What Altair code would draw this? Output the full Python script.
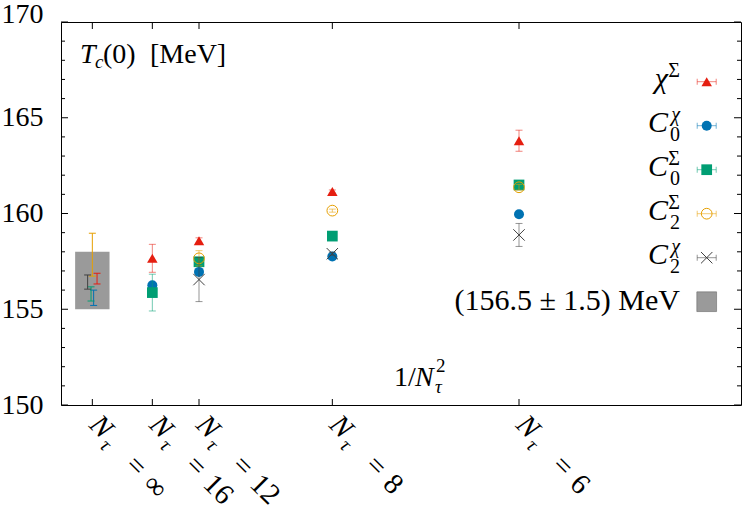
import math
import altair as alt
import pandas as pd

# ---------------- data ----------------
nt_labels = ["∞", "16", "12", "8", "6"]
nt_values = [math.inf, 16, 12, 8, 6]

series_keys = ["chiS", "C0chi", "C0S", "C2S", "C2chi"]
chiS_val = [156.60, 157.66, 158.58, 161.15, 163.80]
chiS_err = [0.28, 0.73, 0.15, 0.08, 0.55]
C0chi_val = [155.60, 156.25, 156.95, 157.75, 159.96]
C0chi_err = [0.40, 0.10, 0.10, 0.08, 0.10]
C0S_val = [155.80, 155.87, 157.48, 158.82, 161.49]
C0S_err = [0.37, 0.96, 0.15, 0.08, 0.10]
C2S_val = [157.85, None, 157.66, 160.15, 161.37]
C2S_err = [1.12, None, 0.40, 0.08, 0.15]
C2chi_val = [156.42, None, 156.55, 157.90, 158.88]
C2chi_err = [0.37, None, 1.15, 0.08, 0.60]

band_value = 156.5
band_error = 1.5

legend_main = ["χ", "C", "C", "C", "C", "(156.5 ± 1.5) MeV"]
legend_sup = ["Σ", "χ", "Σ", "Σ", "χ", ""]
legend_sup_italic = [False, True, False, False, True, False]
legend_sub = ["", "0", "0", "2", "2", ""]

y_major = [150, 155, 160, 165, 170]

# ---------------- styles / layout ----------------
W, H = 680, 383
XMIN, XMAX = -0.00204, 0.04223
YMIN, YMAX = 150, 170
FONT = "Liberation Serif"
PX = W / (XMAX - XMIN)
PY = H / (YMAX - YMIN)

colors = {"chiS": "#e51e10", "C0chi": "#0072b2", "C0S": "#009e73",
          "C2S": "#e69f00", "C2chi": "#404040"}
limit_offset_px = {"chiS": 4.7, "C0chi": 1.3, "C0S": -1.3, "C2S": 0.0, "C2chi": -4.7}
marker_style = {
    "chiS": dict(shape="triangle-up", filled=True, size=110),
    "C0chi": dict(shape="circle", filled=True, size=100),
    "C0S": dict(shape="square", filled=True, size=115),
    "C2S": dict(shape="circle", filled=False, size=115, strokeWidth=1),
    "C2chi": dict(shape="M-1,-1L1,1M-1,1L1,-1", filled=False, size=130, strokeWidth=1),
}
BAND_COLOR = "#9a9a9a"

xscale = alt.Scale(domain=[XMIN, XMAX], nice=False, zero=False)
yscale = alt.Scale(domain=[YMIN, YMAX], nice=False, zero=False)


def X(f):
    return alt.X(f, type="quantitative", scale=xscale, axis=None)


def Y(f):
    return alt.Y(f, type="quantitative", scale=yscale, axis=None)


# ---------------- tables ----------------
vals = {"chiS": (chiS_val, chiS_err), "C0chi": (C0chi_val, C0chi_err),
        "C0S": (C0S_val, C0S_err), "C2S": (C2S_val, C2S_err),
        "C2chi": (C2chi_val, C2chi_err)}
rows = []
for key in series_keys:
    v, e = vals[key]
    for n, yv, ye in zip(nt_values, v, e):
        if yv is None:
            continue
        lim = math.isinf(n)
        x = 0.0 if lim else 1.0 / n ** 2
        if lim:
            x += limit_offset_px[key] / PX
        rows.append(dict(series=key, x=x, y=yv, lo=yv - ye, hi=yv + ye,
                         marker=not lim, op=1.0 if lim else 0.55))
pts = pd.DataFrame(rows)

ticks = pd.DataFrame({"x": [0.0 if math.isinf(n) else 1.0 / n ** 2 for n in nt_values],
                      "lab": nt_labels})

band_half = 17.2 / PX
band = pd.DataFrame({"x0": [-band_half], "x1": [band_half],
                     "lo": [band_value - band_error], "hi": [band_value + band_error]})

# legend layout (in data units)
leg_sym_x = XMIN + (706.7 - 61) / PX
leg_txt_x = XMIN + (680 - 61) / PX
leg_hw = 9.5 / PX
leg_y0 = YMAX - (81.7 - 22) / PY
leg_step = 44.0 / PY
legend = pd.DataFrame({
    "i": list(range(6)),
    "key": series_keys + ["band"],
    "ly": [leg_y0 - leg_step * i for i in range(6)],
    "main": legend_main, "sup": legend_sup, "supi": legend_sup_italic, "sub": legend_sub,
})
legend["tx"] = leg_txt_x
legend["sx"] = leg_sym_x
legend["sx0"] = leg_sym_x - leg_hw
legend["sx1"] = leg_sym_x + leg_hw

one = pd.DataFrame({"a": [0]})
major_df = pd.DataFrame({"v": y_major})
minor_df = pd.DataFrame({"v": [v for v in range(151, 170) if v % 5]})

layers = []

# y axis (labels only; ticks drawn inward below)
yaxis = alt.Axis(values=y_major, ticks=False, domain=False, grid=False, title=None,
                 labelFont=FONT, labelFontSize=28, labelColor="black", labelPadding=18,
                 labelBaseline={"condition": {"test": "datum.value == 170", "value": "alphabetic"},
                                "value": "middle"})
layers.append(alt.Chart(major_df).mark_rule(color="black", strokeWidth=1).encode(
    x=alt.value(0), x2=alt.value(7),
    y=alt.Y("v:Q", scale=yscale, axis=yaxis)))

# gray band
layers.append(alt.Chart(band).mark_rect(color=BAND_COLOR).encode(
    x=X("x0"), x2="x1", y=Y("lo"), y2="hi"))

# series
for key in series_keys:
    col = colors[key]
    base = alt.Chart(pts).transform_filter(alt.datum.series == key)
    op = alt.Opacity("op:Q", scale=None)
    layers.append(base.mark_rule(color=col, strokeWidth=1).encode(
        x=X("x"), y=Y("lo"), y2="hi", opacity=op))
    for f in ("lo", "hi"):
        layers.append(base.mark_tick(orient="horizontal", size=7, thickness=1, color=col).encode(
            x=X("x"), y=Y(f), opacity=op))
    layers.append(base.transform_filter("datum.marker").mark_point(
        color=col, opacity=1, **marker_style[key]).encode(x=X("x"), y=Y("y")))

    # legend symbol
    lb = alt.Chart(legend).transform_filter(alt.datum.key == key)
    layers.append(lb.mark_rule(color=col, strokeWidth=1, opacity=0.55).encode(
        x=X("sx0"), x2="sx1", y=Y("ly")))
    for f in ("sx0", "sx1"):
        layers.append(lb.mark_tick(orient="vertical", size=6, thickness=1, color=col, opacity=0.55).encode(
            x=X(f), y=Y("ly")))
    layers.append(lb.mark_point(color=col, opacity=1, **marker_style[key]).encode(
        x=X("sx"), y=Y("ly")))

# legend band symbol
layers.append(alt.Chart(legend).transform_filter(alt.datum.key == "band").mark_point(
    shape="square", filled=True, size=390, color=BAND_COLOR, stroke="#6a6a6a",
    strokeWidth=0.6, opacity=1).encode(x=X("sx"), y=Y("ly")))

# legend texts
lt = alt.Chart(legend)
layers.append(lt.transform_filter("datum.i < 5").mark_text(
    align="right", baseline="alphabetic", dx=-12, dy=6, font=FONT, fontStyle="italic",
    fontSize=30, color="black").encode(x=X("tx"), y=Y("ly"), text="main:N"))
layers.append(lt.transform_filter("datum.i == 5").mark_text(
    align="right", baseline="alphabetic", dx=0, dy=8, font=FONT,
    fontSize=30, color="black").encode(x=X("tx"), y=Y("ly"), text="main:N"))
layers.append(lt.transform_filter("datum.i < 5 && datum.supi").mark_text(
    align="right", baseline="alphabetic", dx=0, dy=-5, font=FONT, fontStyle="italic",
    fontSize=20, color="black").encode(x=X("tx"), y=Y("ly"), text="sup:N"))
layers.append(lt.transform_filter("datum.i < 5 && !datum.supi").mark_text(
    align="right", baseline="alphabetic", dx=0, dy=-5, font=FONT,
    fontSize=20, color="black").encode(x=X("tx"), y=Y("ly"), text="sup:N"))
layers.append(lt.transform_filter("datum.i < 5").mark_text(
    align="right", baseline="alphabetic", dx=0, dy=15, font=FONT,
    fontSize=20, color="black").encode(x=X("tx"), y=Y("ly"), text="sub:N"))

# inward axis ticks
layers.append(alt.Chart(major_df).mark_rule(color="black", strokeWidth=1).encode(
    x=alt.value(W - 7), x2=alt.value(W), y=Y("v")))
layers.append(alt.Chart(minor_df).mark_rule(color="black", strokeWidth=1).encode(
    x=alt.value(0), x2=alt.value(4), y=Y("v")))
layers.append(alt.Chart(minor_df).mark_rule(color="black", strokeWidth=1).encode(
    x=alt.value(W - 4), x2=alt.value(W), y=Y("v")))
layers.append(alt.Chart(ticks).mark_rule(color="black", strokeWidth=1).encode(
    x=X("x"), y=alt.value(0), y2=alt.value(7)))
layers.append(alt.Chart(ticks).mark_rule(color="black", strokeWidth=1).encode(
    x=X("x"), y=alt.value(H - 6), y2=alt.value(H)))

# rotated x labels  N_tau = value
tk = alt.Chart(ticks)
layers.append(tk.mark_text(angle=45, align="left", baseline="alphabetic", dx=12, dy=18,
                           font=FONT, fontStyle="italic", fontSize=29, color="black", text="N").encode(
    x=X("x"), y=alt.value(H)))
layers.append(tk.mark_text(angle=45, align="left", baseline="alphabetic", dx=34, dy=25,
                           font=FONT, fontStyle="italic", fontSize=20, color="black", text="τ").encode(
    x=X("x"), y=alt.value(H)))
layers.append(tk.mark_text(angle=45, align="center", baseline="alphabetic", dx=74, dy=21,
                           font=FONT, fontSize=29, color="black", text="=").encode(
    x=X("x"), y=alt.value(H)))
layers.append(tk.mark_text(angle=45, align="left", baseline="alphabetic", dx=92, dy=22,
                           font=FONT, fontSize=29, color="black").encode(
    x=X("x"), y=alt.value(H), text="lab:N"))

# annotations: T_c(0) [MeV]  and  1/N_tau^2
def txt(s, x, y, size=28, italic=False):
    kw = dict(align="left", baseline="alphabetic", font=FONT, fontSize=size, color="black", text=s)
    if italic:
        kw["fontStyle"] = "italic"
    return alt.Chart(one).mark_text(**kw).encode(x=alt.value(x), y=alt.value(y))

layers += [
    txt("T", 19, 41, italic=True),
    txt("c", 34, 46, size=19, italic=True),
    txt("(0)", 42, 41),
    txt("[MeV]", 89, 41),
    txt("1/", 333, 364),
    txt("N", 354, 364, italic=True),
    txt("τ", 374, 371, size=19, italic=True),
    txt("2", 375, 350, size=19),
]

chart = alt.layer(*layers).resolve_axis(y="independent").properties(
    width=W, height=H,
    autosize=alt.AutoSizeParams(type="none"),
    padding={"left": 61, "top": 22, "right": 9, "bottom": 110},
    background="white",
).configure_view(stroke="black", strokeWidth=1)

chart.save("out.html", embed_options={"renderer": "svg", "actions": False})
